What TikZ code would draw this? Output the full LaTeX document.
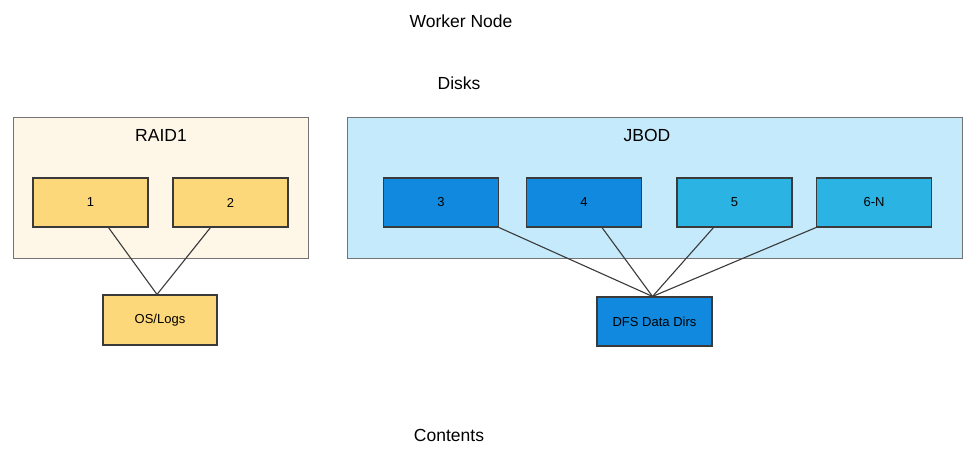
\documentclass[tikz,border=0pt]{standalone}
\usepackage{fontspec}
\setmainfont{Liberation Sans}
\definecolor{raidbg}{HTML}{FEF7E7}
\definecolor{yel}{HTML}{FDD87A}
\definecolor{jbodbg}{HTML}{C4EAFB}
\definecolor{dblue}{HTML}{1089DE}
\definecolor{lblue}{HTML}{2BB3E3}
\definecolor{edgec}{HTML}{3A3A3A}
\begin{document}
\begin{tikzpicture}[x=1pt,y=-1pt,
  container/.style={draw=black!55,line width=1pt},
  disk/.style={draw=edgec,line width=1.1pt,minimum width=115pt,minimum height=49pt,inner sep=0pt,font=\fontsize{13}{15}\selectfont},
  title/.style={font=\fontsize{17.5}{20}\selectfont,inner sep=0pt},
  link/.style={draw=edgec,line width=1.1pt}]
\useasboundingbox (0,0) rectangle (975,455);
\fill[white] (0,0) rectangle (975,455);
% containers
\draw[container,fill=raidbg] (13,117) rectangle (308,258);
\draw[container,fill=jbodbg] (347,117) rectangle (962,258);
% titles
\node[title] (worker) at (461,21) {Worker Node};
\node[title] (disks) at (459,83) {Disks};
\node[title] (contents) at (449,435) {Contents};
\node[title] (raid) at (161,135) {RAID1};
\node[title] (jbod) at (647,135) {JBOD};
% disks
\node[disk,fill=yel] (d1) at (90.5,202.5) {1};
\node[disk,fill=yel] (d2) at (230.5,202.5) {2};
\node[disk,fill=yel,minimum width=114pt,minimum height=50pt] (os) at (160,320) {OS/Logs};
\node[disk,fill=dblue] (d3) at (441,202.5) {3};
\node[disk,fill=dblue] (d4) at (584,202.5) {4};
\node[disk,fill=lblue] (d5) at (734.5,202.5) {5};
\node[disk,fill=lblue] (d6) at (874,202.5) {6-N};
\node[disk,fill=dblue] (dfs) at (654.5,321.5) {DFS Data Dirs};
% links
\coordinate (osin) at ([xshift=-3pt]os.north);
\coordinate (dfsin) at ([xshift=-2pt]dfs.north);
\draw[link] ([xshift=18pt]d1.south) -- (osin);
\draw[link] ([xshift=-20pt]d2.south) -- (osin);
\draw[link] (d3.south east) -- (dfsin);
\draw[link] ([xshift=18pt]d4.south) -- (dfsin);
\draw[link] ([xshift=-21pt]d5.south) -- (dfsin);
\draw[link] (d6.south west) -- (dfsin);
\end{tikzpicture}
\end{document}
